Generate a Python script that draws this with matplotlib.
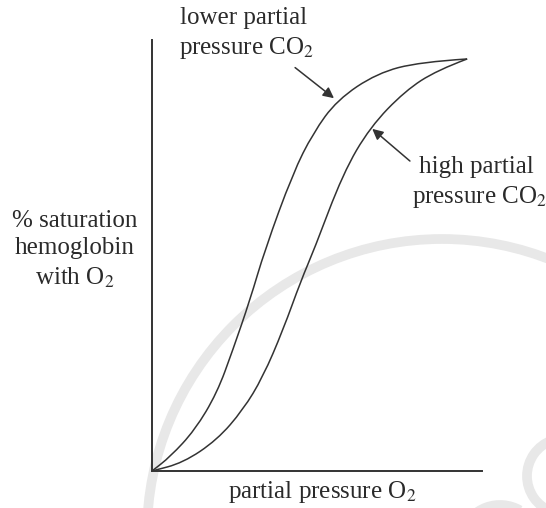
import matplotlib
matplotlib.use("Agg")
import matplotlib.pyplot as plt
from matplotlib.path import Path
from matplotlib.patches import PathPatch, Arc

plt.rcParams['font.family'] = ['Liberation Serif', 'DejaVu Serif']
plt.rcParams['mathtext.fontset'] = 'stix'

# curve readings (partial pressure O2 vs % saturation), axes 0-100
low_co2_x = [0, 5.5, 13.0, 19.7, 24.5, 29.7, 34.2, 42.7, 48.8, 56.1, 68.2, 81.2, 95.5]
low_co2_y = [0, 3.3, 9.5, 18.1, 28.1, 39.7, 51.3, 69.1, 78.4, 86.1, 92.3, 94.9, 95.6]
high_co2_x = [0, 9.4, 19.7, 27.6, 33.6, 39.7, 45.2, 49.1, 57.9, 66.1, 76.7, 86.4, 95.5]
high_co2_y = [0, 1.9, 7.2, 14.2, 21.8, 32.7, 44.3, 51.3, 69.1, 79.8, 88.2, 93.0, 95.6]

line_col = '#333333'
text_col = '#2a2a2a'

fig = plt.figure(figsize=(5.46, 5.08), dpi=100)

# background layer in pixel coords (watermark + labels)
bg = fig.add_axes([0, 0, 1, 1])
bg.set_xlim(0, 546)
bg.set_ylim(508, 0)
bg.axis('off')
bg.add_patch(Arc((442, 534), 590, 590, theta1=180, theta2=360, lw=7, color='#e8e8e8'))
bg.add_patch(Arc((565, 476), 76, 76, theta1=110, theta2=250, lw=7, color='#e8e8e8'))
bg.add_patch(Arc((500, 545), 80, 80, theta1=200, theta2=300, lw=7, color='#e8e8e8'))

ax = fig.add_axes([152 / 546, 37 / 508, 330 / 546, 431 / 508])
ax.set_xlim(0, 100)
ax.set_ylim(0, 100)
ax.patch.set_alpha(0)
for s in ['top', 'right']:
    ax.spines[s].set_visible(False)
for s in ['left', 'bottom']:
    ax.spines[s].set_color(line_col)
    ax.spines[s].set_linewidth(1.4)
ax.set_xticks([])
ax.set_yticks([])


def smooth_curve(xs, ys):
    # quadratic bezier through midpoints of the read points
    pts = list(zip(xs, ys))
    verts = [pts[0]]
    codes = [Path.MOVETO]
    verts.append(((pts[0][0] + pts[1][0]) / 2, (pts[0][1] + pts[1][1]) / 2))
    codes.append(Path.LINETO)
    for i in range(1, len(pts) - 1):
        nx = (pts[i][0] + pts[i + 1][0]) / 2
        ny = (pts[i][1] + pts[i + 1][1]) / 2
        if i == len(pts) - 2:
            nx, ny = pts[i + 1]
        verts += [pts[i], (nx, ny)]
        codes += [Path.CURVE3, Path.CURVE3]
    return Path(verts, codes)


for xs, ys in [(low_co2_x, low_co2_y), (high_co2_x, high_co2_y)]:
    ax.add_patch(PathPatch(smooth_curve(xs, ys), fill=False, lw=1.1, edgecolor=line_col))

arrow = dict(arrowstyle='-|>', color=line_col, lw=1.1, mutation_scale=16)
ax.annotate('', xy=(55.8, 86.1), xytext=(42.7, 94.0), arrowprops=arrow)
ax.annotate('', xy=(66.1, 79.8), xytext=(78.8, 71.5), arrowprops=arrow)

fs = 18
bg.text(244, 18, 'lower partial', ha='center', va='center', fontsize=fs, color=text_col)
bg.text(247, 48, r'pressure CO$_2$', ha='center', va='center', fontsize=fs, color=text_col)
bg.text(476, 167, 'high partial', ha='center', va='center', fontsize=fs, color=text_col)
bg.text(480, 197, r'pressure CO$_2$', ha='center', va='center', fontsize=fs, color=text_col)
bg.text(75, 221, '% saturation', ha='center', va='center', fontsize=fs, color=text_col)
bg.text(75, 248, 'hemoglobin', ha='center', va='center', fontsize=fs, color=text_col)
bg.text(75, 278, r'with O$_2$', ha='center', va='center', fontsize=fs, color=text_col)
bg.text(322, 492, r'partial pressure O$_2$', ha='center', va='center', fontsize=fs, color=text_col)

fig.savefig('out.png', dpi=100)
